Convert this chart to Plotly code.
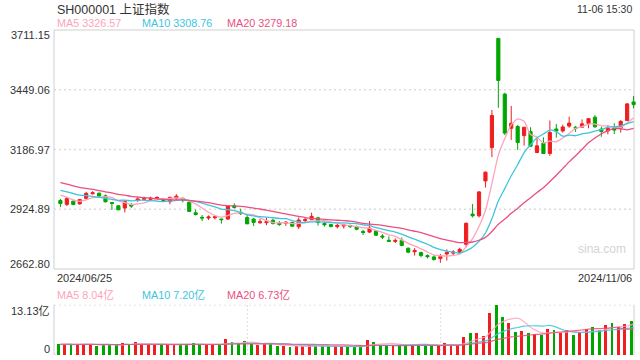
import plotly.graph_objects as go
import pandas as pd

# ---------------- data ----------------
month_days = {
    "06": [25, 26, 27, 28],
    "07": [1, 2, 3, 4, 5, 8, 9, 10, 11, 12, 15, 16, 17, 18, 19, 22, 23, 24, 25, 26, 29, 30, 31],
    "08": [1, 2, 5, 6, 7, 8, 9, 12, 13, 14, 15, 16, 19, 20, 21, 22, 23, 26, 27, 28, 29, 30],
    "09": [2, 3, 4, 5, 6, 9, 10, 11, 12, 13, 18, 19, 20, 23, 24, 25, 26, 27, 30],
    "10": [8, 9, 10, 11, 14, 15, 16, 17, 18, 21, 22, 23, 24, 25, 28, 29, 30, 31],
    "11": [1, 4, 5, 6],
}
dates = [f"2024/{m}/{d:02d}" for m, ds in month_days.items() for d in ds]

opens = [2963.2, 2946.2, 2960.5, 2948.4, 2972.8, 2992.6, 2995.5, 2983.9, 2954.3, 2940.0,
         2930.1, 2943.8, 2963.1, 2968.4, 2968.2, 2973.4, 2967.3, 2958.1, 2973.5, 2973.0,
         2956.3, 2909.3, 2889.4, 2886.5, 2887.5, 2882.2, 2881.7, 2941.2, 2911.2, 2888.5,
         2881.9, 2865.5, 2865.8, 2876.8, 2864.0, 2863.5, 2866.7, 2848.1, 2875.0, 2880.5,
         2887.2, 2862.4, 2857.5, 2848.5, 2851.1, 2853.1, 2847.6, 2827.5, 2824.7, 2830.0,
         2807.4, 2788.7, 2783.8, 2789.2, 2754.0, 2738.4, 2734.8, 2721.5, 2715.8, 2708.5,
         2728.7, 2732.4, 2734.3, 2771.0, 2903.6, 2896.0, 3049.0, 3195.0, 3674.4, 3430.0,
         3280.0, 3288.0, 3247.8, 3265.6, 3173.7, 3214.7, 3169.5, 3277.0, 3268.4, 3289.6,
         3284.6, 3285.0, 3301.7, 3328.8, 3276.5, 3268.0, 3279.3, 3281.0, 3314.0, 3395.5]
highs = [2970.5, 2978.5, 2963.0, 2970.0, 3001.5, 3004.0, 2998.0, 2989.7, 2955.0, 2943.0,
         2965.2, 2952.6, 2976.2, 2980.0, 2979.8, 2982.0, 2970.0, 2980.0, 2991.0, 2976.0,
         2959.2, 2924.0, 2899.6, 2898.0, 2896.0, 2882.5, 2943.0, 2951.4, 2927.0, 2901.7,
         2886.0, 2883.0, 2889.0, 2884.0, 2873.0, 2872.0, 2871.0, 2889.0, 2889.6, 2909.8,
         2891.5, 2871.0, 2860.5, 2860.0, 2860.9, 2857.5, 2853.5, 2835.0, 2872.9, 2833.0,
         2816.0, 2806.0, 2797.0, 2801.0, 2757.0, 2754.4, 2739.2, 2727.4, 2723.0, 2728.9,
         2749.0, 2745.6, 2756.0, 2867.5, 2947.5, 3005.0, 3090.5, 3360.0, 3674.4, 3436.0,
         3378.0, 3295.0, 3287.0, 3284.6, 3236.0, 3240.4, 3314.0, 3299.0, 3296.0, 3331.0,
         3290.5, 3319.0, 3325.0, 3338.0, 3287.0, 3294.5, 3302.0, 3316.0, 3391.0, 3421.7]
lows = [2934.0, 2939.0, 2943.0, 2945.0, 2968.5, 2990.0, 2980.5, 2954.6, 2922.0, 2921.0,
        2911.0, 2930.6, 2957.3, 2965.5, 2963.8, 2967.5, 2960.0, 2946.4, 2964.7, 2955.0,
        2912.4, 2897.6, 2873.0, 2878.0, 2880.0, 2862.0, 2879.0, 2928.0, 2899.5, 2860.0,
        2851.0, 2861.0, 2855.0, 2857.8, 2852.0, 2852.0, 2849.0, 2838.0, 2869.0, 2880.0,
        2853.5, 2849.0, 2846.0, 2841.0, 2840.0, 2842.9, 2833.0, 2812.0, 2820.3, 2808.0,
        2794.0, 2782.8, 2776.5, 2762.9, 2732.0, 2721.7, 2714.5, 2709.8, 2699.7, 2689.7,
        2700.0, 2724.0, 2728.5, 2758.0, 2889.0, 2889.0, 3020.0, 3153.8, 3370.0, 3250.0,
        3229.0, 3185.0, 3204.0, 3200.0, 3171.0, 3169.0, 3159.0, 3239.0, 3261.0, 3282.3,
        3264.0, 3282.0, 3279.8, 3282.0, 3243.0, 3253.5, 3255.0, 3261.0, 3311.0, 3367.6]
closes = [2950.00, 2972.53, 2945.85, 2967.40, 2994.73, 2997.01, 2982.38, 2957.57, 2949.93, 2922.45,
          2959.37, 2939.36, 2970.39, 2971.30, 2974.01, 2976.30, 2962.92, 2977.13, 2982.31, 2964.22,
          2915.37, 2901.95, 2886.43, 2890.90, 2891.85, 2879.30, 2938.75, 2932.39, 2905.34, 2860.70,
          2867.28, 2869.90, 2870.22, 2862.19, 2858.20, 2867.95, 2850.65, 2877.36, 2879.43, 2893.67,
          2866.66, 2856.58, 2848.77, 2854.37, 2855.52, 2848.73, 2837.43, 2823.11, 2842.21, 2811.04,
          2802.98, 2784.28, 2788.22, 2765.81, 2736.49, 2744.19, 2721.80, 2717.12, 2704.09, 2717.28,
          2736.02, 2736.81, 2748.92, 2863.13, 2896.31, 3000.95, 3087.53, 3336.50, 3489.78, 3258.86,
          3301.93, 3217.74, 3284.32, 3201.29, 3202.95, 3169.38, 3261.56, 3268.11, 3285.87, 3302.80,
          3280.26, 3299.70, 3322.20, 3286.41, 3266.24, 3279.82, 3272.01, 3310.21, 3386.99, 3383.81]
# volume in 亿
volumes = [2.75, 2.80, 2.75, 2.80, 2.85, 2.80, 2.30, 2.75, 2.70, 2.75,
           3.06, 2.70, 3.33, 2.80, 2.70, 2.65, 2.60, 2.70, 2.75, 2.70,
           2.80, 3.06, 2.75, 2.70, 2.65, 2.70, 4.11, 3.33, 2.85, 3.59,
           2.80, 2.60, 2.80, 2.80, 2.28, 2.28, 2.00, 2.30, 2.28, 2.55,
           2.28, 2.28, 2.28, 2.28, 2.20, 2.00, 2.00, 2.70, 3.85, 3.33,
           2.60, 2.55, 2.50, 2.60, 2.60, 2.50, 2.55, 2.45, 2.50, 2.60,
           3.06, 2.60, 2.60, 4.64, 5.69, 5.69, 4.90, 10.90, 13.13, 9.90,
           8.30, 5.95, 6.20, 5.70, 5.40, 5.20, 6.70, 6.40, 5.70, 6.40,
           5.20, 5.90, 6.70, 7.30, 6.40, 7.80, 8.30, 7.30, 8.05, 8.84]

# warm-up values (19 sessions before the window) for the moving averages
prior_closes = [3109.57, 3111.02, 3091.68, 3086.81, 3078.49, 3091.20, 3065.40, 3048.79, 3051.28, 3028.05,
                3037.47, 3028.92, 3032.63, 3015.89, 3030.25, 3018.05, 3005.44, 2998.14, 2963.10]
prior_volumes = [3.2, 3.0, 3.1, 2.9, 3.0, 2.8, 2.9, 2.8, 3.0, 2.7,
                 2.9, 2.8, 2.7, 2.6, 2.8, 2.7, 2.6, 2.9, 2.7]

price_ticks = [2662.80, 2924.89, 3186.97, 3449.06, 3711.15]
price_tick_text = ["2662.80", "2924.89", "3186.97", "3449.06", "3711.15"]
vol_max = 13.13
vol_tick_text = ["0", "13.13亿"]
ma_periods = [5, 10, 20]
price_ma_text = ["MA5 3326.57", "MA10 3308.76", "MA20 3279.18"]
vol_ma_text = ["MA5 8.04亿", "MA10 7.20亿", "MA20 6.73亿"]
title_text = "SH000001 上证指数"
time_text = "11-06 15:30"

# ---------------- styling ----------------
RED = "#f01e1e"
GREEN = "#00a600"
MA_COLORS = ["#ffa3bb", "#3cc5df", "#ec4f80"]
GRID = "#dcdcdc"
BORDER = "#cfcfcf"
TXT = "#333333"
FONT = "Liberation Sans, Arial, Noto Sans CJK SC, sans-serif"

W, H = 640, 360
ML, MR, MT, MB = 54, 3, 30, 5
PW = W - ML - MR
PH = H - MT - MB
def py(px_y):
    return (H - MB - px_y) / PH
def pxx(px_x):
    return (px_x - ML) / PW

main_dom = [py(269), 1.0]
vol_dom = [0.0, py(304.7)]
right_edge = pxx(634)

closes_all = pd.Series(prior_closes + closes)
vols_all = pd.Series(prior_volumes + volumes)
n_prior = len(prior_closes)
price_mas = [closes_all.rolling(p).mean().iloc[n_prior:].tolist() for p in ma_periods]
vol_mas = [vols_all.rolling(p).mean().iloc[n_prior:].tolist() for p in ma_periods]

fig = go.Figure()

fig.add_trace(go.Candlestick(
    x=dates, open=opens, high=highs, low=lows, close=closes,
    increasing=dict(line=dict(color=RED, width=1), fillcolor=RED),
    decreasing=dict(line=dict(color=GREEN, width=1), fillcolor=GREEN),
    whiskerwidth=0, xaxis="x", yaxis="y", showlegend=False, hoverinfo="skip",
))
for ma, col in zip(price_mas, MA_COLORS):
    fig.add_trace(go.Scatter(x=dates, y=ma, mode="lines", line=dict(color=col, width=1.3, shape="spline", smoothing=0.6),
                             xaxis="x", yaxis="y", showlegend=False, hoverinfo="skip"))

vol_colors = [RED if c >= o else GREEN for o, c in zip(opens, closes)]
fig.add_trace(go.Bar(x=dates, y=volumes, marker=dict(color=vol_colors, line=dict(width=0)),
                     width=0.45, offset=-0.58, xaxis="x", yaxis="y2", showlegend=False, hoverinfo="skip"))
for ma, col in zip(vol_mas, MA_COLORS):
    fig.add_trace(go.Scatter(x=dates, y=ma, mode="lines", line=dict(color=col, width=1.2, shape="spline", smoothing=0.6),
                             opacity=0.85, xaxis="x", yaxis="y2", showlegend=False, hoverinfo="skip"))

n = len(dates)
fig.update_layout(
    width=W, height=H, margin=dict(l=ML, r=MR, t=MT, b=MB),
    paper_bgcolor="white", plot_bgcolor="white",
    font=dict(family=FONT, color=TXT, size=11),
    xaxis=dict(type="category", range=[-0.994, n - 1 + 0.53], showticklabels=False, showgrid=False,
               zeroline=False, showline=False, ticks="", rangeslider=dict(visible=False), anchor="y2"),
    yaxis=dict(domain=main_dom, range=[price_ticks[0], price_ticks[-1]], showticklabels=False,
               showgrid=False, zeroline=False, showline=False, ticks=""),
    yaxis2=dict(domain=vol_dom, range=[0, vol_max], showticklabels=False, showgrid=False,
                zeroline=False, showline=False, ticks=""),
    bargap=0.0,
)

shapes = []
# main panel border
shapes.append(dict(type="rect", xref="paper", yref="paper", x0=0, x1=right_edge, y0=main_dom[0], y1=main_dom[1],
                   line=dict(color=BORDER, width=1), layer="below"))
for v in price_ticks[1:-1]:
    shapes.append(dict(type="line", xref="paper", yref="y", x0=0, x1=right_edge, y0=v, y1=v,
                       line=dict(color=GRID, width=1.5, dash="2px,3px"), layer="below"))
# volume panel frame
for yv in [0, vol_max]:
    shapes.append(dict(type="line", xref="paper", yref="y2", x0=0, x1=right_edge, y0=yv, y1=yv,
                       line=dict(color=GRID, width=1.5, dash="2px,3px"), layer="below"))
for xv in [0, right_edge]:
    shapes.append(dict(type="line", xref="paper", yref="paper", x0=xv, x1=xv, y0=vol_dom[0], y1=vol_dom[1],
                       line=dict(color=BORDER, width=1), layer="below"))
for frac in [1 / 3, 2 / 3]:
    xv = right_edge * frac
    shapes.append(dict(type="line", xref="paper", yref="paper", x0=xv, x1=xv, y0=vol_dom[0], y1=vol_dom[1],
                       line=dict(color=GRID, width=1, dash="2px,2px"), layer="below"))
fig.update_layout(shapes=shapes)

ann = []
def add_text(text, x_px, y_px, anchor="left", size=11, color=TXT):
    ann.append(dict(text=text, xref="paper", yref="paper", x=pxx(x_px), y=py(y_px), xanchor=anchor,
                    yanchor="middle", showarrow=False, font=dict(size=size, color=color, family=FONT)))

add_text(title_text, 55, 9, size=12.5)
add_text(time_text, 634, 9, anchor="right", size=10.5)
for txt, xp, col in zip(price_ma_text, [55, 140, 225], MA_COLORS):
    add_text(txt, xp, 23.5, size=10.8, color=col)
for txt, xp, col in zip(vol_ma_text, [55, 140, 225], MA_COLORS):
    add_text(txt, xp, 294.5, size=10.8, color=col)
# price axis labels
price_y_px = [263.5, 209.3, 149.6, 89.9, 35]
for txt, yp in zip(price_tick_text, price_y_px):
    add_text(txt, 51.5, yp, anchor="right", size=11)
add_text(vol_tick_text[1], 51.5, 311, anchor="right", size=11)
add_text(vol_tick_text[0], 51.5, 349, anchor="right", size=11)
# date labels
add_text(dates[0], 55, 277.5, size=11)
add_text(dates[-1], 634, 277.5, anchor="right", size=11)
# watermark
add_text("sina.com", 602, 249, anchor="center", size=12, color="#d4d4d4")
fig.update_layout(annotations=ann)

fig.write_html("out.html", config={"displayModeBar": False, "staticPlot": True},
               post_script="document.body.style.margin='0';document.body.style.overflow='hidden';")
